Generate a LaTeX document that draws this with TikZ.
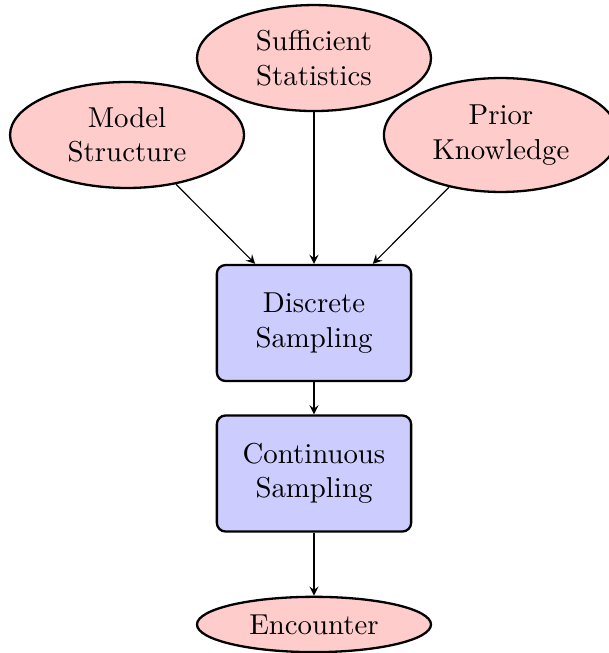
\documentclass[tikz,border=0pt]{standalone}
\usepackage{tikz}
\usetikzlibrary{arrows, shapes.geometric}

\begin{document}
\begin{tikzpicture}[
    source/.style={ellipse, draw, thick, fill=red!20, align=center,
      minimum width=2.855cm, minimum height=1.293cm},
    sampler/.style={rectangle, rounded corners=3pt, draw, thick, fill=blue!20,
      align=center, minimum width=2.37cm, minimum height=1.415cm},
    link/.style={arrows={-stealth}}]
  \useasboundingbox (-3.831, -4.026) rectangle (3.599, 3.941);

  % Inputs.
  \node [source] (model) at (-2.281, 2.294) {Model\\Structure};
  \node [source] (stats) at (0, 3.233) {Sufficient\\Statistics};
  \node [source, minimum height=1.39cm] (prior) at (2.281, 2.294) {Prior\\Knowledge};

  % Sampling stages.
  \node [sampler] (discrete) at (0, 0) {Discrete\\Sampling};
  \node [sampler] (continuous) at (0, -1.836) {Continuous\\Sampling};

  % Output.
  \node [source, minimum height=0.67cm] (encounter) at (0, -3.678) {Encounter};

  % Draw links.
  \draw [link] (model) -- (discrete);
  \draw [link] (stats) -- (discrete);
  \draw [link] (prior) -- (discrete);
  \draw [link] (discrete) -- (continuous);
  \draw [link] (continuous) -- (encounter);
\end{tikzpicture}
\end{document}
